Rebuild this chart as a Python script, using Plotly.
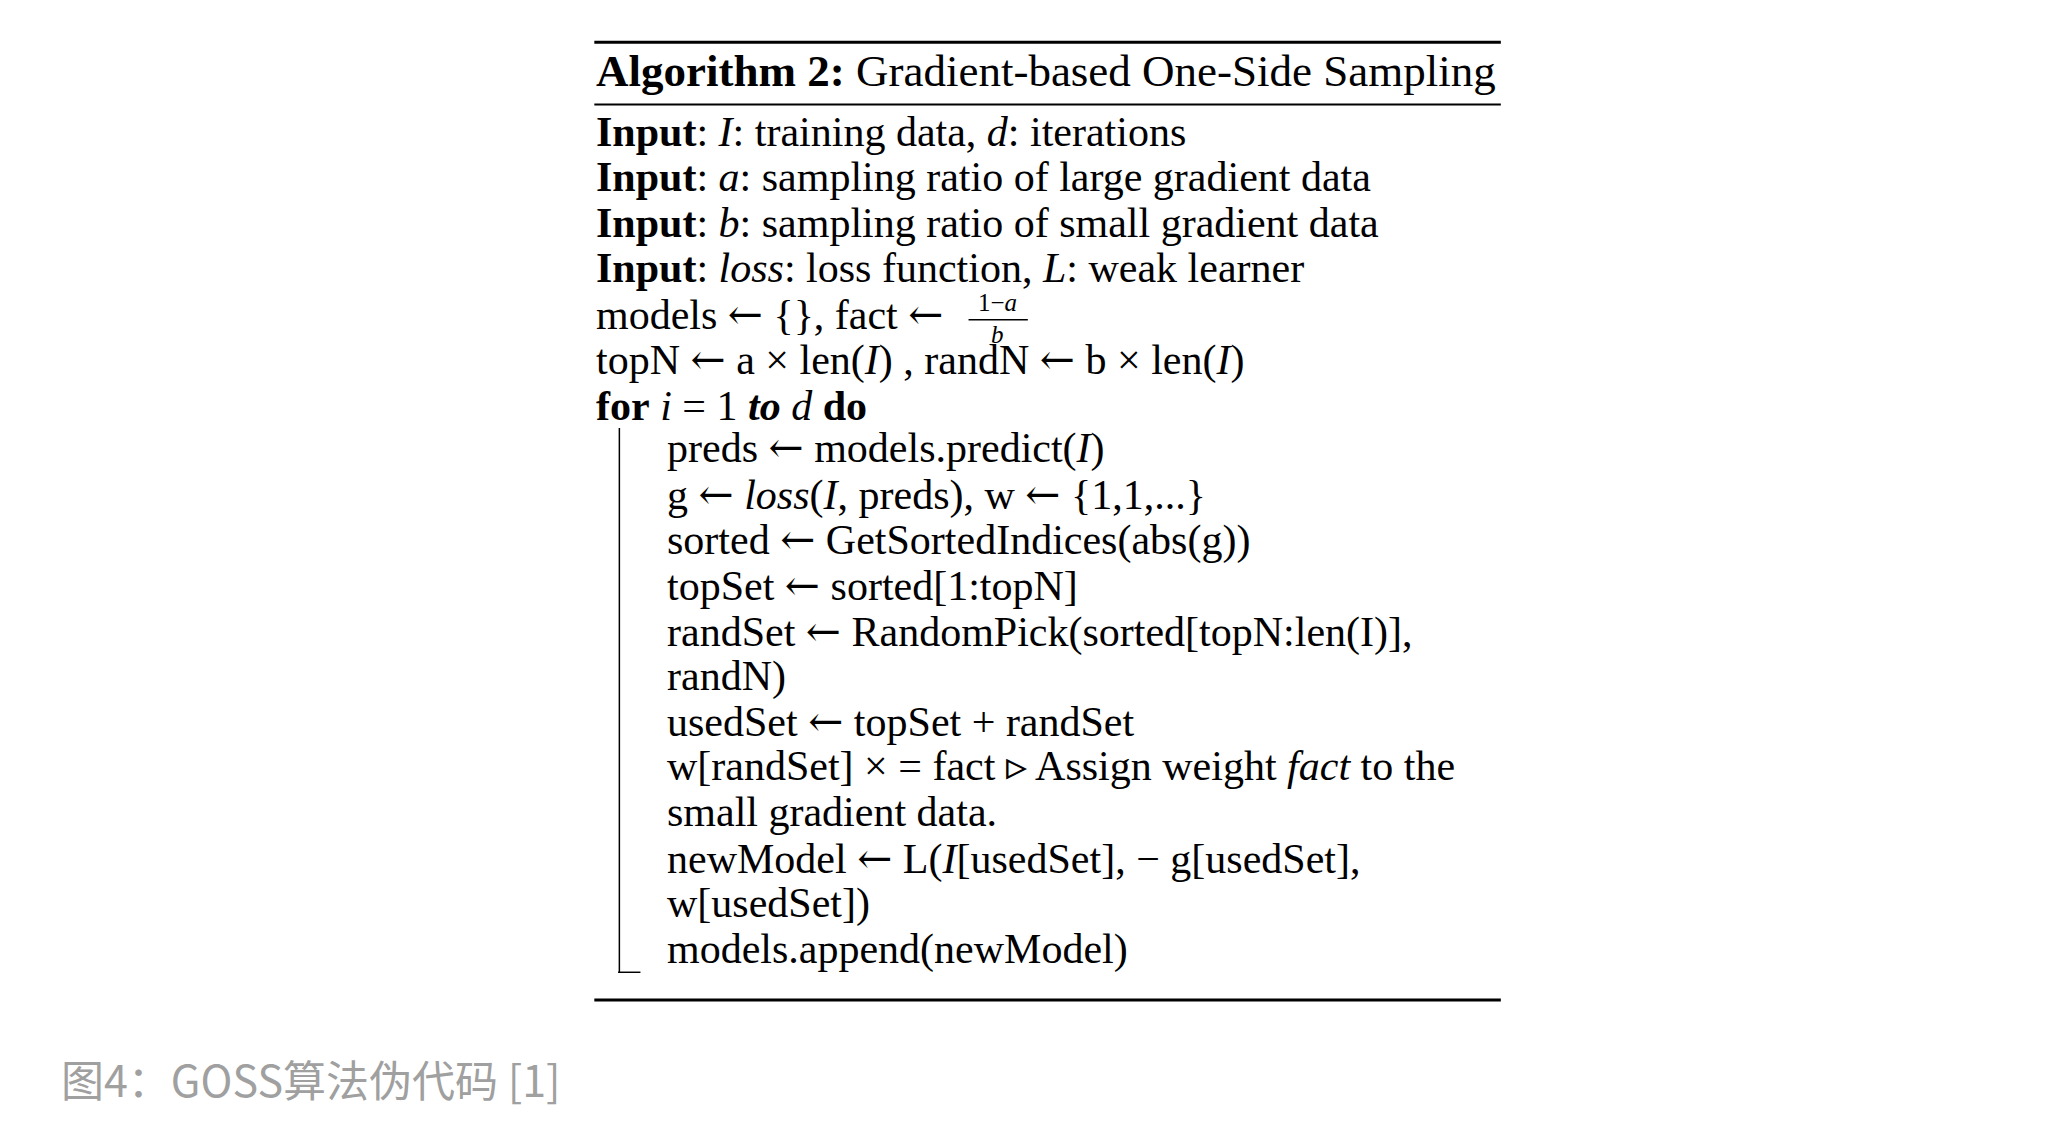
import plotly.graph_objects as go

AR = '<span style="font-family:DejaVu Serif">←</span>'

title_text = "<b>Algorithm 2:</b> Gradient-based One-Side Sampling"
lines = [
    (0, "<b>Input</b>: <i>I</i>: training data, <i>d</i>: iterations"),
    (0, "<b>Input</b>: <i>a</i>: sampling ratio of large gradient data"),
    (0, "<b>Input</b>: <i>b</i>: sampling ratio of small gradient data"),
    (0, "<b>Input</b>: <i>loss</i>: loss function, <i>L</i>: weak learner"),
    (0, f"models {AR} {{}}, fact {AR}"),
    (0, f"topN {AR} a × len(<i>I</i>) , randN {AR} b × len(<i>I</i>)"),
    (0, "<b>for</b> <i>i</i> = 1 <b><i>to</i></b> <i>d</i> <b>do</b>"),
    (1, f"preds {AR} models.predict(<i>I</i>)"),
    (1, f"g {AR} <i>loss</i>(<i>I</i>, preds), w {AR} {{1,1,...}}"),
    (1, f"sorted {AR} GetSortedIndices(abs(g))"),
    (1, f"topSet {AR} sorted[1:topN]"),
    (1, f"randSet {AR} RandomPick(sorted[topN:len(I)],"),
    (1, "randN)"),
    (1, f"usedSet {AR} topSet + randSet"),
    (1, "w[randSet] × = fact ▹ Assign weight <i>fact</i> to the"),
    (1, "small gradient data."),
    (1, f"newModel {AR} L(<i>I</i>[usedSet], − g[usedSet],"),
    (1, "w[usedSet])"),
    (1, "models.append(newModel)"),
]
line_y = [101, 135, 170, 204, 239, 273, 308, 340, 375, 409, 444, 479,
          513, 547, 581, 616, 651, 685, 720]
caption = "图4：GOSS算法伪代码 [1]"

serif = "Liberation Serif, Times New Roman, serif"
fig = go.Figure()
fig.add_trace(go.Scatter(x=[100, 1400], y=[100, 800], mode="markers",
                         marker=dict(opacity=0), hoverinfo="skip"))

fig.add_annotation(x=451, y=55, text=title_text, showarrow=False,
                   xanchor="left", yanchor="middle",
                   font=dict(family=serif, size=45, color="black"))
for (ind, txt), y in zip(lines, line_y):
    fig.add_annotation(x=451 + ind * 54, y=y, text=txt, showarrow=False,
                       xanchor="left", yanchor="middle",
                       font=dict(family=serif, size=42, color="black"))

# fraction (1-a)/b
fig.add_annotation(x=757, y=230, text="1−<i>a</i>", showarrow=False,
                   xanchor="center", yanchor="middle",
                   font=dict(family=serif, size=25, color="black"))
fig.add_annotation(x=757, y=254, text="<i>b</i>", showarrow=False,
                   xanchor="center", yanchor="middle",
                   font=dict(family=serif, size=25, color="black"))

fig.add_annotation(x=45, y=817, text=caption, showarrow=False,
                   xanchor="left", yanchor="middle",
                   font=dict(family="Noto Sans CJK SC", size=43, color="#a0a0a0"))

shapes = [
    dict(type="line", x0=451, x1=1139, y0=33, y1=33, line=dict(color="black", width=3)),
    dict(type="line", x0=451, x1=1139, y0=80, y1=80, line=dict(color="black", width=2)),
    dict(type="line", x0=451, x1=1139, y0=758, y1=758, line=dict(color="black", width=3)),
    dict(type="line", x0=735, x1=780, y0=243, y1=243, line=dict(color="black", width=1.5)),
    dict(type="line", x0=470, x1=470, y0=325, y1=737, line=dict(color="black", width=1.5)),
    dict(type="line", x0=469, x1=486, y0=737, y1=737, line=dict(color="black", width=1.5)),
]
for s in shapes:
    s.update(xref="x", yref="y")
    fig.add_shape(**s)

fig.update_layout(width=2066, height=1136, margin=dict(l=0, r=0, t=0, b=0),
                  plot_bgcolor="white", paper_bgcolor="white", showlegend=False,
                  xaxis=dict(range=[6, 1574], visible=False, fixedrange=True),
                  yaxis=dict(range=[867, 7], visible=False, fixedrange=True))
fig.write_html("out.html")
